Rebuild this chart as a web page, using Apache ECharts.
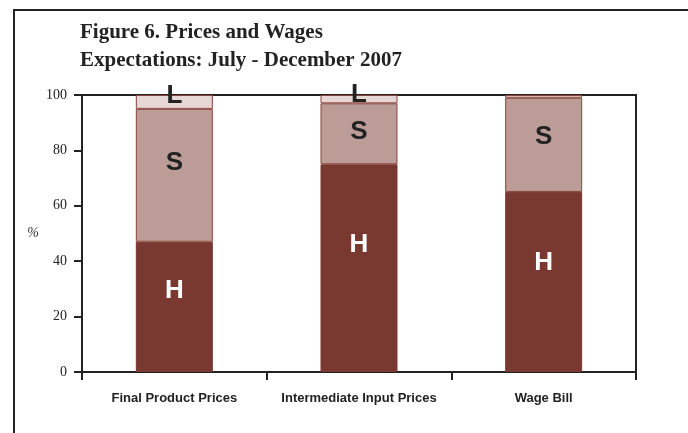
<!DOCTYPE html>
<html>
<head>
<meta charset="utf-8">
<script src="https://cdn.jsdelivr.net/npm/echarts@6/dist/echarts.min.js"></script>
<style>
  html, body { margin: 0; padding: 0; background: #fff; }
  #chart { width: 688px; height: 433px; }
</style>
</head>
<body>
<div id="chart"></div>
<script>
var categories = ['Final Product Prices', 'Intermediate Input Prices', 'Wage Bill'];
var highShare = [47, 75, 65];
var sameShare = [48, 22, 34];
var lowShare = [5, 3, 1];
var yTicks = [0, 20, 40, 60, 80, 100];

var chart = echarts.init(document.getElementById('chart'));

// label nudges so letters sit roughly where the original put them
function items(values, shifts, show) {
	var out = [];
	for (var i = 0; i < values.length; i++) {
		out.push({
			value: values[i],
			label: { show: show[i], offset: [0, shifts[i]] }
		});
	}
	return out;
}

var letterFont = {
	fontFamily: 'Liberation Sans, Arial, sans-serif',
	fontWeight: 'bold',
	fontSize: 26
};

var option = {
	backgroundColor: '#ffffff',
	animation: false,
	title: {
		text: 'Figure 6. Prices and Wages\nExpectations: July - December 2007',
		left: 80,
		top: 19,
		padding: 0,
		textStyle: {
			fontFamily: 'Liberation Serif, Times New Roman, serif',
			fontWeight: 'bold',
			fontSize: 21,
			lineHeight: 28,
			color: '#222'
		}
	},
	grid: {
		left: 82,
		right: 52,
		top: 95,
		bottom: 61,
		show: true,
		borderColor: '#222',
		borderWidth: 2,
		backgroundColor: 'transparent'
	},
	xAxis: {
		type: 'category',
		data: categories,
		axisLine: { lineStyle: { color: '#222', width: 2 } },
		axisTick: { show: true, interval: 0, length: 8, lineStyle: { color: '#222', width: 2 } },
		axisLabel: {
			interval: 0,
			margin: 20,
			fontFamily: 'Liberation Sans, Arial, sans-serif',
			fontWeight: 'bold',
			fontSize: 13,
			color: '#222'
		}
	},
	yAxis: {
		type: 'value',
		min: yTicks[0],
		max: yTicks[yTicks.length - 1],
		interval: yTicks[1] - yTicks[0],
		name: '%',
		nameLocation: 'middle',
		nameRotate: 0,
		nameGap: 43,
		nameTextStyle: {
			fontFamily: 'Liberation Serif, Times New Roman, serif',
			fontStyle: 'italic',
			fontSize: 14,
			color: '#333'
		},
		splitLine: { show: false },
		axisLine: { show: true, lineStyle: { color: '#222', width: 2 } },
		axisTick: { show: true, length: 8, lineStyle: { color: '#222', width: 2 } },
		axisLabel: {
			margin: 15,
			fontFamily: 'Liberation Serif, Times New Roman, serif',
			fontSize: 14,
			color: '#222'
		}
	},
	series: [
		{
			name: 'H',
			type: 'bar',
			stack: 'all',
			barWidth: 77,
			data: items(highShare, [-16, -23, -19], [true, true, true]),
			itemStyle: { color: '#7a3930', borderColor: '#7a3930', borderWidth: 1 }
		},
		{
			name: 'S',
			type: 'bar',
			stack: 'all',
			barWidth: 77,
			data: items(sameShare, [-13, -2, -8], [true, true, true]),
			itemStyle: { color: '#bc9c97', borderColor: '#8a453b', borderWidth: 1 }
		},
		{
			name: 'L',
			type: 'bar',
			stack: 'all',
			barWidth: 77,
			data: items(lowShare, [-6, -4, 0], [true, true, false]),
			itemStyle: { color: '#e6d7d5', borderColor: '#8a453b', borderWidth: 1 }
		}
	],
	graphic: [
		{
			type: 'polyline',
			shape: { points: [[14, 433], [14, 10], [688, 10]] },
			style: { stroke: '#222', lineWidth: 2, fill: null }
		}
	]
};

var labelColors = ['#ffffff', '#222222', '#222222'];
for (var s = 0; s < option.series.length; s++) {
	option.series[s].label = {
		show: true,
		position: 'inside',
		formatter: option.series[s].name,
		color: labelColors[s],
		fontFamily: letterFont.fontFamily,
		fontWeight: letterFont.fontWeight,
		fontSize: letterFont.fontSize
	};
}

chart.setOption(option);
</script>
</body>
</html>
